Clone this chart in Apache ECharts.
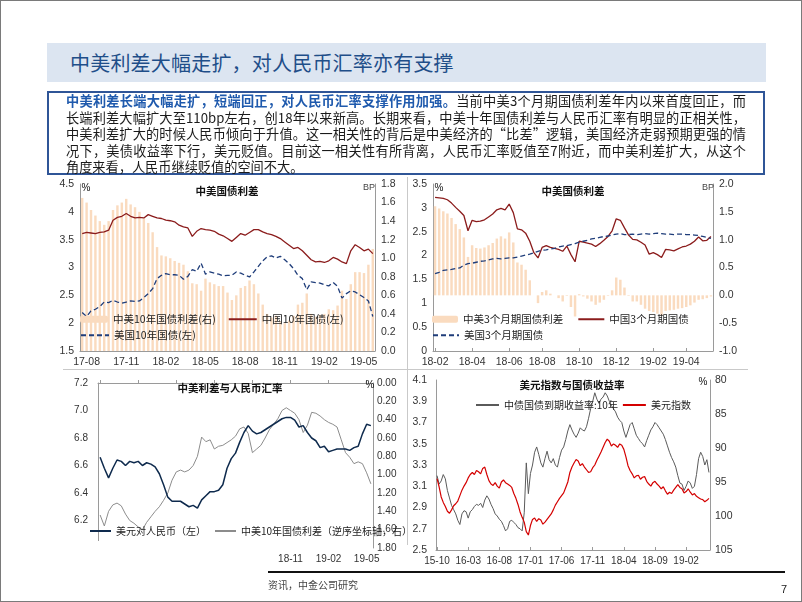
<!DOCTYPE html>
<html><head><meta charset="utf-8">
<script src="https://cdn.jsdelivr.net/npm/echarts@6/dist/echarts.min.js"></script>
<style>
html,body{margin:0;padding:0;background:#fff;}
#page{position:relative;width:802px;height:602px;overflow:hidden;background:#fff;font-family:"Noto Sans CJK SC",sans-serif;}
#frame{position:absolute;left:0;top:0;width:800px;height:600px;border:1px solid #7a7a7a;z-index:5;pointer-events:none;}
#chart{position:absolute;left:0;top:0;width:802px;height:602px;z-index:1;}
#band{position:absolute;left:47px;top:43px;width:719px;height:39px;background:#DCE5F1;z-index:2;}
#band span{position:absolute;left:23px;top:0;line-height:39px;font-size:20px;color:#1F4E89;letter-spacing:0.2px;}
#box{position:absolute;left:47px;top:91px;width:714px;height:80px;border:2px solid #2F5597;z-index:2;background:#fff;}
#box .ln{position:absolute;left:17px;width:680px;font-size:13.2px;line-height:16px;height:16px;color:#1a1a1a;white-space:nowrap;text-align:justify;text-align-last:justify;}
#box .ln.last{text-align:left;text-align-last:left;}
#box b{color:#1F5AAD;font-weight:bold;}
.hl{position:absolute;background:#c9c9c9;z-index:2;}
#cover{position:absolute;left:30px;top:541px;width:237px;height:29px;background:#fff;z-index:3;}
#rule{position:absolute;left:268px;top:571px;width:517px;height:2px;background:#111;z-index:3;}
#src{position:absolute;left:268px;top:577px;font-size:10px;color:#444;z-index:3;}
#pg{position:absolute;left:781px;top:583px;font-size:11px;color:#222;font-family:"Liberation Sans",Arial,sans-serif;z-index:3;}
</style></head>
<body>
<div id="page">
  <div id="chart"></div>
  <div id="band"><span>中美利差大幅走扩，对人民币汇率亦有支撑</span></div>
  <div id="box">
    <div class="ln" style="top:0px"><b>中美利差长端大幅走扩，短端回正，对人民币汇率支撑作用加强。</b>当前中美3个月期国债利差年内以来首度回正，而</div>
    <div class="ln" style="top:16.5px">长端利差大幅扩大至110bp左右，创18年以来新高。长期来看，中美十年国债利差与人民币汇率有明显的正相关性，</div>
    <div class="ln" style="top:33px">中美利差扩大的时候人民币倾向于升值。这一相关性的背后是中美经济的“比差”逻辑，美国经济走弱预期更强的情</div>
    <div class="ln" style="top:49.5px">况下，美债收益率下行，美元贬值。目前这一相关性有所背离，人民币汇率贬值至7附近，而中美利差扩大，从这个</div>
    <div class="ln last" style="top:66px">角度来看，人民币继续贬值的空间不大。</div>
  </div>
  <div class="hl" style="left:63px;top:369px;width:685px;height:1px;"></div>
  <div class="hl" style="left:407px;top:177px;width:1px;height:368px;"></div>
  <div id="cover"></div>
  <div id="rule"></div>
  <div id="src">资讯，中金公司研究</div>
  <div id="pg">7</div>
  <div id="frame"></div>
</div>
<script>
// ---------- Chart 1: 中美10年国债 (dekads from 2017-07-21) ----------
const months1 = ['17-08','17-11','18-02','18-05','18-08','18-11','19-02','19-05'];
const cn10 = [3.61,3.63,3.62,3.61,3.63,3.64,3.67,3.85,3.90,3.92,3.97,3.92,3.89,3.90,3.89,3.95,3.92,3.89,3.88,3.85,3.84,3.82,3.76,3.73,3.71,3.56,3.65,3.70,3.68,3.67,3.65,3.60,3.57,3.52,3.47,3.54,3.61,3.58,3.63,3.68,3.68,3.64,3.61,3.59,3.56,3.52,3.46,3.40,3.34,3.36,3.30,3.22,3.14,3.10,3.11,3.09,3.12,3.18,3.15,3.10,3.07,3.30,3.41,3.36,3.30,3.33,3.25];
const us10 = [2.19,2.12,2.22,2.25,2.30,2.38,2.37,2.41,2.38,2.36,2.38,2.40,2.39,2.40,2.46,2.53,2.62,2.80,2.86,2.89,2.87,2.87,2.86,2.79,2.84,2.96,2.93,3.08,2.88,2.92,2.90,2.88,2.85,2.86,2.86,2.92,2.90,2.86,2.83,2.92,3.02,3.12,3.19,3.21,3.17,3.20,3.14,3.07,2.98,2.86,2.80,2.60,2.74,2.73,2.72,2.69,2.67,2.73,2.66,2.45,2.53,2.58,2.56,2.51,2.46,2.40,2.12];
const sp10 = [1.65,1.60,1.52,1.46,1.40,1.36,1.40,1.52,1.57,1.60,1.64,1.58,1.55,1.50,1.43,1.38,1.28,1.12,1.03,1.02,1.00,0.97,0.95,0.93,0.86,0.73,0.72,0.65,0.78,0.74,0.72,0.70,0.70,0.63,0.55,0.60,0.68,0.70,0.76,0.72,0.62,0.50,0.40,0.36,0.38,0.32,0.30,0.33,0.38,0.50,0.52,0.62,0.40,0.37,0.39,0.40,0.45,0.44,0.49,0.65,0.56,0.72,0.85,0.85,0.84,0.93,1.10];

// ---------- Chart 2: 中美3个月期国债 (weekly from 2018-02-01) ----------
const months2 = ['18-02','18-04','18-06','18-08','18-10','18-12','19-02','19-04'];
const cn3m = [3.22,3.21,3.20,3.17,3.10,3.01,2.93,2.84,2.52,2.74,2.71,2.72,2.75,2.81,2.87,2.96,2.99,2.96,3.08,2.90,2.56,2.54,2.47,2.30,2.06,1.95,2.17,2.21,2.17,2.15,2.13,2.09,2.20,2.02,1.87,2.30,2.28,2.26,2.24,2.19,2.25,2.32,2.40,2.52,2.77,2.74,2.58,2.43,2.34,2.33,2.28,2.22,2.03,2.06,2.02,1.96,2.13,2.12,2.10,2.14,2.18,2.20,2.24,2.30,2.39,2.31,2.32,2.40];
const us3m = [1.62,1.65,1.69,1.70,1.71,1.73,1.74,1.80,1.83,1.84,1.86,1.88,1.89,1.91,1.93,1.94,1.93,1.94,1.95,1.95,1.97,1.99,2.01,2.03,2.06,2.09,2.11,2.12,2.14,2.15,2.18,2.20,2.21,2.23,2.25,2.28,2.30,2.32,2.35,2.36,2.38,2.40,2.41,2.43,2.45,2.46,2.44,2.44,2.45,2.44,2.45,2.46,2.45,2.46,2.47,2.46,2.45,2.45,2.44,2.45,2.45,2.44,2.44,2.43,2.42,2.40,2.38,2.36];
const sp3m = [1.60,1.56,1.51,1.47,1.39,1.28,1.19,1.04,0.69,0.90,0.85,0.84,0.86,0.90,0.94,1.02,1.06,1.02,1.13,0.95,0.59,0.55,0.46,0.27,0.00,-0.14,0.06,0.09,0.03,0.00,-0.05,-0.11,-0.01,-0.21,-0.38,0.02,-0.02,-0.06,-0.11,-0.17,-0.13,-0.08,-0.01,0.09,0.32,0.28,0.14,-0.01,-0.11,-0.11,-0.17,-0.24,-0.28,-0.30,-0.33,-0.36,-0.28,-0.27,-0.26,-0.24,-0.23,-0.21,-0.18,-0.13,-0.08,-0.07,-0.05,-0.02];

// ---------- Chart 3: 中美利差与人民币汇率 (dekads from 2017-08-01) ----------
const months3 = ['17-08','17-11','18-02','18-05','18-08','18-11','19-02','19-05'];
const usdcny = [6.66,6.58,6.51,6.58,6.64,6.63,6.60,6.63,6.62,6.63,6.60,6.62,6.61,6.59,6.54,6.46,6.37,6.34,6.34,6.34,6.32,6.30,6.31,6.29,6.35,6.38,6.41,6.41,6.42,6.46,6.58,6.65,6.69,6.77,6.84,6.89,6.85,6.83,6.84,6.86,6.88,6.90,6.92,6.94,6.95,6.95,6.93,6.88,6.89,6.84,6.80,6.78,6.73,6.74,6.70,6.71,6.72,6.72,6.72,6.71,6.73,6.74,6.83,6.90,6.89];
const spInv = [1.44,1.56,1.40,1.33,1.31,1.34,1.43,1.50,1.53,1.57,1.60,1.52,1.46,1.40,1.35,1.28,1.20,1.06,0.97,0.95,0.97,0.95,0.90,0.80,0.59,0.64,0.62,0.72,0.69,0.68,0.65,0.62,0.58,0.50,0.48,0.55,0.76,0.72,0.68,0.60,0.51,0.45,0.39,0.30,0.27,0.30,0.33,0.40,0.54,0.46,0.32,0.33,0.36,0.40,0.43,0.45,0.48,0.62,0.76,0.81,0.88,0.86,0.88,0.98,1.10];

// ---------- Chart 4: 美元指数与国债收益率 (dekads from 2015-10-01) ----------
const months4 = ['15-10','16-03','16-08','17-01','17-06','17-11','18-04','18-09','19-02'];
const yTicks4 = [2.5,2.7,2.9,3.1,3.3,3.5,3.7,3.9,4.1];
const cn10y = [3.20,3.12,3.15,3.21,3.17,3.06,2.99,2.92,2.88,2.84,2.78,2.74,2.84,2.87,2.86,2.80,2.86,2.88,2.91,2.93,2.92,2.94,2.90,2.97,3.01,2.98,2.93,2.89,2.84,2.82,2.79,2.77,2.73,2.68,2.70,2.77,2.78,2.76,2.74,2.71,2.70,2.68,2.85,3.32,3.03,3.22,3.30,3.42,3.47,3.40,3.32,3.28,3.36,3.43,3.35,3.32,3.36,3.30,3.28,3.37,3.44,3.47,3.54,3.62,3.68,3.63,3.59,3.56,3.60,3.65,3.63,3.62,3.66,3.74,3.83,3.90,3.98,3.92,3.88,3.92,3.94,3.98,3.95,3.90,3.86,3.83,3.80,3.75,3.72,3.70,3.62,3.56,3.62,3.68,3.70,3.64,3.58,3.55,3.52,3.50,3.47,3.53,3.58,3.63,3.66,3.70,3.68,3.65,3.62,3.59,3.54,3.48,3.42,3.37,3.33,3.28,3.20,3.13,3.12,3.06,3.10,3.15,3.13,3.08,3.10,3.21,3.36,3.42,3.38,3.30,3.35,3.23];
const dxy = [94.5,95.7,97.2,98.0,98.6,99.3,99.6,99.1,98.5,98.2,97.8,97.0,96.2,95.6,95.1,94.4,93.9,93.6,93.9,93.3,93.5,93.8,93.0,92.8,93.9,94.8,95.3,95.5,95.1,95.6,95.9,95.0,94.7,95.1,95.3,95.5,95.8,96.7,97.4,98.3,99.4,100.2,100.9,102.3,102.8,101.4,100.5,100.3,100.8,100.4,100.6,101.2,100.9,100.5,100.1,99.7,99.1,98.4,97.9,97.4,97.0,96.6,95.8,95.0,93.6,92.8,92.2,91.7,91.9,92.6,92.3,92.8,93.2,93.6,93.5,92.9,92.5,91.8,91.2,90.6,89.9,89.2,88.7,89.0,89.7,89.4,89.6,89.9,89.4,89.6,90.2,91.3,92.6,93.3,93.8,94.4,94.1,94.0,94.6,94.3,94.2,94.9,95.3,95.6,95.1,94.9,95.3,95.6,96.0,95.7,96.3,96.8,96.5,96.7,96.2,95.8,95.4,95.8,96.0,96.6,96.4,96.0,96.5,96.9,96.7,97.1,97.3,97.5,97.6,97.9,97.7,97.4];

// ---------- date category helpers ----------
function pad(n){return String(n).padStart(2,'0');}
function dekads(y,m,d,n){const o=[];for(let i=0;i<n;i++){o.push(y+'-'+pad(m)+'-'+pad(d));d+=10;if(d>21){d=1;m++;if(m>12){m=1;y++;}}}return o;}
function weeks(y,m,d,n){const o=[];const t=Date.UTC(y,m-1,d);for(let i=0;i<n;i++){o.push(new Date(t+i*7*86400000).toISOString().slice(0,10));}return o;}
const cat1 = dekads(2017,7,21,cn10.length);
const cat2 = weeks(2018,2,1,cn3m.length);
const cat3 = dekads(2017,8,1,usdcny.length);
const cat4 = dekads(2015,10,1,cn10y.length);

const LAT = '"Liberation Sans", Arial, sans-serif';
const CJK = '"Noto Sans CJK SC", sans-serif';
const AX = '#9a9a9a';
const BAR = '#FADBBF';

function labelSet(cats, months){const s=new Set();months.forEach(mm=>{const i=cats.findIndex(c=>c.slice(2,7)===mm);if(i>=0)s.add(i);});return s;}
function xa(gi,cats,months,fs){
  const s=labelSet(cats,months); const f=(i)=>s.has(i);
  return {type:'category',gridIndex:gi,data:cats,boundaryGap:true,
    axisLine:{show:true,lineStyle:{color:AX}},
    axisTick:{show:true,inside:true,length:3,interval:f,alignWithLabel:true,lineStyle:{color:AX}},
    axisLabel:{interval:f,formatter:v=>v.slice(2,7),color:'#333',fontSize:fs,fontFamily:LAT,margin:6,hideOverlap:false},
    splitLine:{show:false}};
}
function ya(gi,pos,min,max,interval,fmt,extra){
  const a={type:'value',gridIndex:gi,position:pos,min:min,max:max,
    axisLine:{show:true,lineStyle:{color:AX}},axisTick:{show:false},splitLine:{show:false},
    axisLabel:{formatter:fmt,color:'#333',fontSize:10.5,fontFamily:LAT,margin:6}};
  if(interval!=null)a.interval=interval;
  return Object.assign(a,extra||{});
}
function gtext(x,y,t,opt){opt=opt||{};return {type:'text',x:x,y:y,z:10,style:{text:t,align:opt.align||'center',verticalAlign:'middle',fill:opt.fill||'#111',font:opt.font||('10px '+CJK)}};}
const legText = {fontFamily:CJK,fontSize:10.5,color:'#222'};
// legend entry for a line: hide the marker circle, keep the line
const NOSYM = {color:'rgba(0,0,0,0)',borderColor:'rgba(0,0,0,0)',borderWidth:0};
function li(name){return {name:name,itemStyle:NOSYM};}

const option = {
  animation:false,
  grid:[
    {left:80,top:184,width:295,height:167},
    {left:433,top:184,width:280,height:167},
    {left:98,top:383,width:275,height:165},
    {left:436,top:380,width:274,height:170}
  ],
  xAxis:[xa(0,cat1,months1,10.5),xa(1,cat2,months2,10.5),xa(2,cat3,months3,10),xa(3,cat4,months4,10)],
  yAxis:[
    ya(0,'left',1.5,4.5,0.5,null),
    ya(0,'right',0,1.8,0.2,v=>v.toFixed(1)),
    ya(1,'left',0,3.5,0.5,null),
    ya(1,'right',-1,2,0.5,v=>v.toFixed(1)),
    ya(2,'left',6.0,7.2,0.2,v=>v.toFixed(1),{axisLabel:{formatter:v=>v.toFixed(1),color:'#333',fontSize:10,fontFamily:LAT,margin:10}}),
    ya(2,'right',0,1.8,0.2,v=>v.toFixed(2),{inverse:true,axisLabel:{formatter:v=>v.toFixed(2),color:'#333',fontSize:10,fontFamily:LAT,margin:4}}),
    ya(3,'left',2.5,4.1,null,null,{axisLabel:{customValues:yTicks4,formatter:v=>v.toFixed(1),color:'#333',fontSize:10.5,fontFamily:LAT,margin:9}}),
    ya(3,'right',80,105,5,null,{inverse:true,axisLabel:{color:'#333',fontSize:10.5,fontFamily:LAT,margin:5}})
  ],
  legend:[
    {left:80,top:314,padding:0,itemWidth:28,itemHeight:7,itemGap:12,textStyle:legText,data:['中美10年国债利差(右)',li('中国10年国债(左)')]},
    {left:80,top:330,padding:0,itemWidth:28,itemHeight:7,textStyle:legText,data:[li('美国10年国债(左)')]},
    {left:432,top:314,padding:0,itemWidth:26,itemHeight:7,itemGap:14,textStyle:legText,data:['中美3个月期国债利差',li('中国3个月期国债')]},
    {left:432,top:330,padding:0,itemWidth:26,itemHeight:7,textStyle:legText,data:[li('美国3个月期国债')]},
    {left:89,top:526,padding:0,itemWidth:21,itemHeight:7,itemGap:8,textStyle:{fontFamily:CJK,fontSize:10,color:'#222'},data:[li('美元对人民币（左）'),li('中美10年国债利差（逆序坐标轴，右）')]},
    {left:475,top:400,padding:0,itemWidth:23,itemHeight:7,itemGap:4,textStyle:{fontFamily:CJK,fontSize:10,color:'#222'},data:[li('中债国债到期收益率:10年'),li('美元指数')]}
  ],
  graphic:[
    gtext(227,191,'中美国债利差',{font:'bold 10.5px '+CJK}),
    gtext(86,188,'%',{font:'10px '+LAT}),
    gtext(369,188,'BP',{font:'9px '+LAT,fill:'#444'}),
    gtext(573,191,'中美国债利差',{font:'bold 10.5px '+CJK}),
    gtext(439,188,'%',{font:'10px '+LAT}),
    gtext(708,188,'BP',{font:'9px '+LAT,fill:'#444'}),
    gtext(230,388,'中美利差与人民币汇率',{font:'bold 10.5px '+CJK}),
    gtext(370,385,'%',{font:'10px '+LAT}),
    gtext(572,385,'美元指数与国债收益率',{font:'bold 10.5px '+CJK}),
    gtext(703,382,'%',{font:'10px '+LAT})
  ],
  series:[
    {type:'bar',name:'中美10年国债利差(右)',xAxisIndex:0,yAxisIndex:1,data:sp10,itemStyle:{color:BAR},barCategoryGap:'45%',z:1},
    {type:'line',name:'中国10年国债(左)',xAxisIndex:0,yAxisIndex:0,data:cn10,symbol:'none',lineStyle:{color:'#8B1C1C',width:1.3},itemStyle:{color:'#8B1C1C'},z:3},
    {type:'line',name:'美国10年国债(左)',xAxisIndex:0,yAxisIndex:0,data:us10,symbol:'none',lineStyle:{color:'#1F3D7A',width:1.3,type:[5,3]},itemStyle:{color:'#1F3D7A'},z:3},

    {type:'bar',name:'中美3个月期国债利差',xAxisIndex:1,yAxisIndex:3,data:sp3m,itemStyle:{color:BAR},barCategoryGap:'40%',z:1},
    {type:'line',name:'中国3个月期国债',xAxisIndex:1,yAxisIndex:2,data:cn3m,symbol:'none',lineStyle:{color:'#8B1C1C',width:1.3},itemStyle:{color:'#8B1C1C'},z:3},
    {type:'line',name:'美国3个月期国债',xAxisIndex:1,yAxisIndex:2,data:us3m,symbol:'none',lineStyle:{color:'#1F3D7A',width:1.3,type:[5,3]},itemStyle:{color:'#1F3D7A'},z:3},

    {type:'line',name:'美元对人民币（左）',xAxisIndex:2,yAxisIndex:4,data:usdcny,symbol:'none',lineStyle:{color:'#0E2A4D',width:1.5},itemStyle:{color:'#0E2A4D'},z:4},
    {type:'line',name:'中美10年国债利差（逆序坐标轴，右）',xAxisIndex:2,yAxisIndex:5,data:spInv,symbol:'none',lineStyle:{color:'#8C8C8C',width:1},itemStyle:{color:'#8C8C8C'},z:3},

    {type:'line',name:'中债国债到期收益率:10年',xAxisIndex:3,yAxisIndex:6,data:cn10y,symbol:'none',lineStyle:{color:'#5A5A5A',width:1},itemStyle:{color:'#5A5A5A'},z:3},
    {type:'line',name:'美元指数',xAxisIndex:3,yAxisIndex:7,data:dxy,symbol:'none',lineStyle:{color:'#D40000',width:1.2},itemStyle:{color:'#D40000'},z:4}
  ]
};
const chart = echarts.init(document.getElementById('chart'));
chart.setOption(option);
</script>
</body></html>
